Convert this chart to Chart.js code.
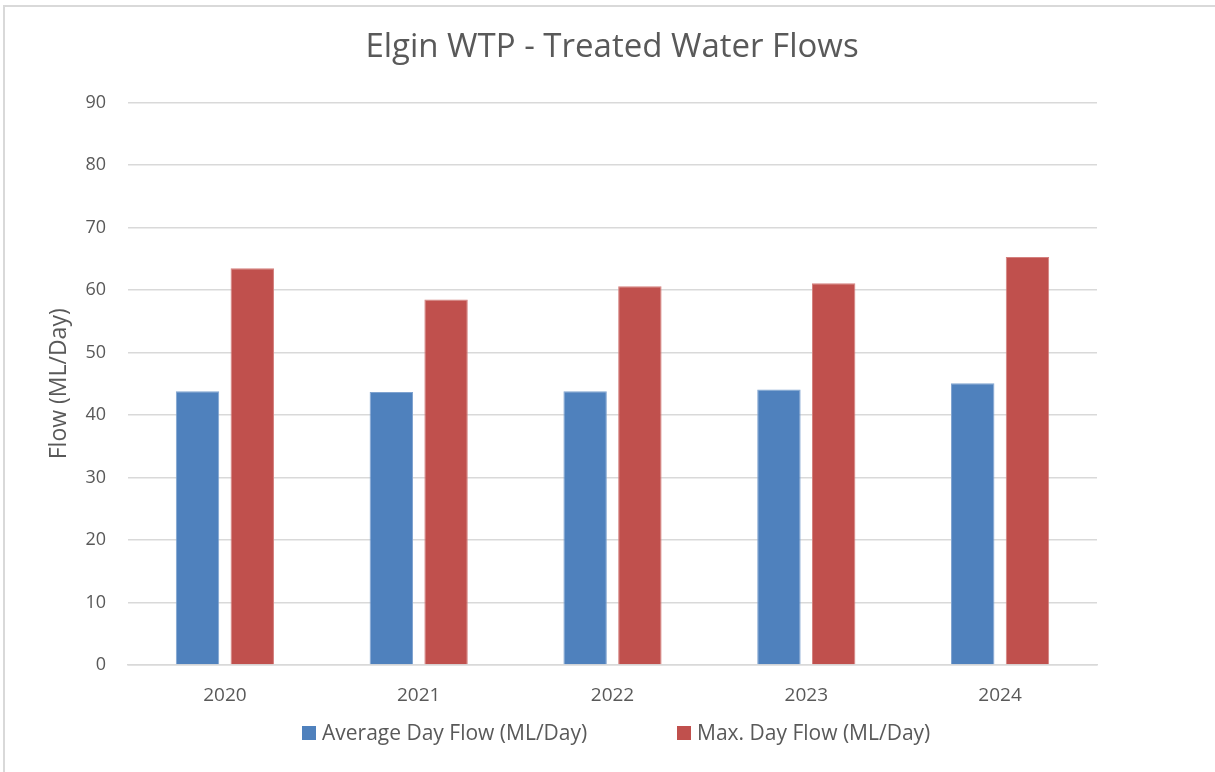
<!DOCTYPE html>
<html>
<head>
<meta charset="utf-8">
<script src="https://cdn.jsdelivr.net/npm/chart.js@4.4.0/dist/chart.umd.min.js"></script>
<style>
  html, body { margin: 0; padding: 0; background: #ffffff; }
  #wrap { position: relative; width: 1215px; height: 772px; }
  #frame { position: absolute; left: 3px; top: 5px; width: 1212px; height: 767px;
           border-left: 2px solid #d9d9d9; border-top: 2px solid #d9d9d9; box-sizing: border-box; pointer-events: none; }
  .legend-item { position: absolute; top: 719px; font-family: 'Open Sans', 'Noto Sans', sans-serif;
                 font-size: 21px; color: #595959; line-height: 27px; white-space: nowrap; }
  .legend-box { position: absolute; top: 726px; width: 14px; height: 14px; }
</style>
</head>
<body>
<div id="wrap">
  <canvas id="flowChart" width="1215" height="772"></canvas>
  <div id="legend"></div>
  <div id="frame"></div>
</div>
<script>
const years = ["2020", "2021", "2022", "2023", "2024"];
const avgDayFlow = [43.8, 43.7, 43.8, 44.1, 45.1];
const maxDayFlow = [63.5, 58.5, 60.6, 61.1, 65.3];
const yTicks = [0, 10, 20, 30, 40, 50, 60, 70, 80, 90];
const seriesNames = ["Average Day Flow (ML/Day)", "Max. Day Flow (ML/Day)"];
const seriesColors = ["#4f81bd", "#c0504d"];

const textColor = "#595959";
const gridColor = "#d9d9d9";
const fontFamily = "'Open Sans', 'Noto Sans', sans-serif";

const ctx = document.getElementById("flowChart").getContext("2d");

let flowChart = new Chart(ctx, {
  type: "bar",
  data: {
    labels: years,
    datasets: [
      {
        label: seriesNames[0],
        data: avgDayFlow,
        backgroundColor: seriesColors[0],
        borderColor: "#7fa3d0",
        borderWidth: 1
      },
      {
        label: seriesNames[1],
        data: maxDayFlow,
        backgroundColor: seriesColors[1],
        borderColor: "#d4807e",
        borderWidth: 1
      }
    ]
  },
  options: {
    responsive: false,
    animation: false,
    layout: { padding: { left: 9, right: 0, top: 0, bottom: 47 } },
    datasets: {
      bar: { categoryPercentage: 0.565, barPercentage: 0.793 }
    },
    plugins: {
      title: {
        display: true,
        text: "Elgin WTP - Treated Water Flows",
        color: textColor,
        font: { family: fontFamily, size: 33, weight: "normal" },
        padding: { top: 28, bottom: 35 }
      },
      legend: { display: false },
      tooltip: { enabled: false }
    },
    scales: {
      x: {
        grid: { display: false, drawTicks: false },
        border: { display: true, color: gridColor, width: 1.5 },
        ticks: { color: textColor, font: { family: fontFamily, size: 19 }, padding: 19 },
        afterFit: scale => { scale.height = 60; }
      },
      y: {
        min: 0,
        max: 90,
        afterBuildTicks: scale => { scale.ticks = yTicks.map(v => ({ value: v })); },
        afterFit: scale => { scale.width = 119; },
        grid: { color: gridColor, lineWidth: 1.5, drawTicks: false },
        border: { display: false },
        ticks: { color: textColor, font: { family: fontFamily, size: 18 }, padding: 22 },
        title: {
          display: true,
          text: "Flow (ML/Day)",
          color: textColor,
          font: { family: fontFamily, size: 23 },
          padding: { top: 37, bottom: 0 }
        }
      },
      yRight: {
        type: "linear",
        position: "right",
        display: true,
        grid: { display: false, drawTicks: false },
        border: { display: false },
        ticks: { display: false },
        afterFit: scale => { scale.width = 118; }
      }
    }
  }
});

// legend drawn as html so spacing matches
const legendBoxX = [302, 677];
const legendTextX = [322, 697];
const legend = document.getElementById("legend");
seriesNames.forEach((name, i) => {
  legend.innerHTML += `
    <div class="legend-box" style="left:${legendBoxX[i]}px;background:${seriesColors[i]}"></div>
    <div class="legend-item" style="left:${legendTextX[i]}px">${name}</div>
  `;
});
</script>
</body>
</html>
